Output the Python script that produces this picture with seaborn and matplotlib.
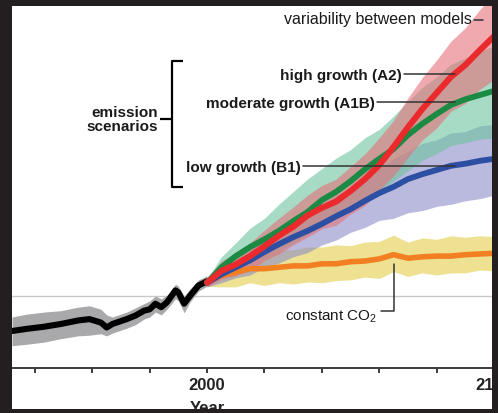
import matplotlib
matplotlib.use("Agg")
import matplotlib.pyplot as plt
from matplotlib.patches import Rectangle
import numpy as np
import seaborn as sns

# ---------------- data (temperature anomaly, deg C) ----------------
hist_years = [1932, 1937, 1943, 1949, 1955, 1959, 1963, 1965, 1967, 1972, 1975,
              1978, 1980, 1982, 1984, 1986, 1989, 1990, 1992, 1994, 1997, 2000]
hist_temp = [-0.50, -0.47, -0.44, -0.40, -0.35, -0.33, -0.38, -0.45, -0.40, -0.33, -0.28,
             -0.21, -0.19, -0.11, -0.16, -0.09, 0.08, 0.05, -0.11, 0.00, 0.15, 0.21]
hist_upper = [-0.30, -0.26, -0.23, -0.21, -0.16, -0.14, -0.19, -0.27, -0.30, -0.23, -0.17,
              -0.11, -0.07, 0.00, -0.04, 0.01, 0.17, 0.14, 0.00, 0.10, 0.23, 0.29]
hist_lower = [-0.71, -0.69, -0.66, -0.61, -0.57, -0.56, -0.54, -0.57, -0.53, -0.46, -0.41,
              -0.33, -0.30, -0.23, -0.27, -0.19, -0.04, -0.07, -0.24, -0.09, 0.07, 0.14]

fut_years = [2000, 2005, 2010, 2015, 2020, 2025, 2030, 2035, 2040, 2045, 2050,
             2055, 2060, 2065, 2070, 2075, 2080, 2085, 2090, 2095, 2100]

a2_temp = [0.19, 0.36, 0.45, 0.57, 0.71, 0.86, 0.99, 1.15, 1.26, 1.35, 1.50,
           1.67, 1.87, 2.13, 2.41, 2.67, 2.90, 3.13, 3.30, 3.51, 3.71]
a2_up = [0.06, 0.14, 0.17, 0.19, 0.23, 0.25, 0.28, 0.29, 0.32, 0.32, 0.35,
         0.36, 0.39, 0.38, 0.42, 0.45, 0.47, 0.51, 0.53, 0.58, 0.60]
a2_lo = [0.06, 0.12, 0.16, 0.21, 0.20, 0.26, 0.26, 0.31, 0.30, 0.34, 0.33,
         0.38, 0.36, 0.41, 0.43, 0.44, 0.50, 0.49, 0.55, 0.56, 0.62]

a1b_temp = [0.19, 0.41, 0.57, 0.70, 0.81, 0.93, 1.07, 1.20, 1.37, 1.49, 1.64,
            1.81, 1.96, 2.10, 2.30, 2.46, 2.60, 2.73, 2.81, 2.87, 2.93]
a1b_up = [0.06, 0.15, 0.19, 0.27, 0.30, 0.38, 0.42, 0.47, 0.45, 0.48, 0.45,
          0.45, 0.42, 0.47, 0.48, 0.52, 0.53, 0.58, 0.59, 0.63, 0.64]
a1b_lo = [0.06, 0.12, 0.18, 0.20, 0.27, 0.28, 0.32, 0.33, 0.38, 0.38, 0.41,
          0.42, 0.45, 0.46, 0.51, 0.52, 0.57, 0.58, 0.62, 0.63, 0.67]

b1_temp = [0.19, 0.31, 0.41, 0.51, 0.63, 0.74, 0.84, 0.93, 1.03, 1.14, 1.24,
           1.36, 1.47, 1.56, 1.67, 1.74, 1.80, 1.86, 1.89, 1.93, 1.96]
b1_up = [0.06, 0.12, 0.13, 0.18, 0.18, 0.22, 0.22, 0.25, 0.26, 0.30, 0.30,
         0.34, 0.35, 0.40, 0.40, 0.44, 0.43, 0.47, 0.46, 0.50, 0.49]
b1_lo = [0.06, 0.12, 0.15, 0.21, 0.22, 0.27, 0.28, 0.31, 0.30, 0.34, 0.33,
         0.38, 0.39, 0.45, 0.48, 0.52, 0.52, 0.55, 0.53, 0.54, 0.52]

co2_temp = [0.20, 0.29, 0.34, 0.39, 0.39, 0.41, 0.43, 0.43, 0.46, 0.46, 0.49,
            0.50, 0.53, 0.59, 0.54, 0.56, 0.57, 0.57, 0.59, 0.60, 0.61]
co2_up = [0.06, 0.18, 0.19, 0.23, 0.21, 0.25, 0.23, 0.27, 0.24, 0.27, 0.23,
          0.27, 0.25, 0.28, 0.23, 0.27, 0.24, 0.29, 0.25, 0.26, 0.24]
co2_lo = [0.06, 0.16, 0.21, 0.20, 0.24, 0.22, 0.26, 0.23, 0.27, 0.24, 0.26,
          0.23, 0.28, 0.24, 0.26, 0.23, 0.27, 0.24, 0.26, 0.23, 0.25]

tick_years = [1940, 1960, 1980, 2000, 2020, 2040, 2060, 2080, 2100]
tick_labels = ["", "", "", "2000", "", "", "", "", "2100"]

# ---------------- style ----------------
sns.set_style("white")
plt.rcParams['font.family'] = ['Liberation Sans', 'DejaVu Sans']
plt.rcParams['mathtext.fontset'] = 'custom'
plt.rcParams['mathtext.rm'] = 'Liberation Sans'
plt.rcParams['mathtext.it'] = 'Liberation Sans:italic'
plt.rcParams['mathtext.bf'] = 'Liberation Sans:bold'

W, H = 498, 414
dark = '#231f20'
fig = plt.figure(figsize=(W / 100, H / 100), dpi=100, facecolor=dark)
fig.add_artist(Rectangle((12 / W, 4 / H), 480 / W, 403 / H, transform=fig.transFigure,
                         facecolor='white', edgecolor='none', zorder=-5))

ax = fig.add_axes([12 / W, 45 / H, 482 / W, 362 / H])
ax.patch.set_alpha(0)
ax.set_xlim(1932, 2100)
ax.set_ylim(-1.0286, 4.1429)

fy = np.array(fut_years)

ax.axhline(0, color='#c9c9c9', lw=1.0, zorder=1)

# historical
ax.fill_between(hist_years, hist_lower, hist_upper, color='#a9a9ab', lw=0, zorder=2)
sns.lineplot(x=hist_years, y=hist_temp, color='black', lw=4.4, ax=ax, zorder=3)

# model-spread bands
def band(center, up, lo, color, alpha):
    c = np.array(center)
    ax.fill_between(fy, c - np.array(lo), c + np.array(up), color=color, alpha=alpha,
                    lw=0, zorder=2)

band(co2_temp, co2_up, co2_lo, '#e7d35f', 0.68)
band(b1_temp, b1_up, b1_lo, '#8c8cc8', 0.6)
band(a1b_temp, a1b_up, a1b_lo, '#6cc3a0', 0.6)
band(a2_temp, a2_up, a2_lo, '#e6717a', 0.6)

sns.lineplot(x=fut_years, y=co2_temp, color='#f27f22', lw=4.0, ax=ax, zorder=4)
sns.lineplot(x=fut_years, y=b1_temp, color='#2d4fa3', lw=4.2, ax=ax, zorder=4)
sns.lineplot(x=fut_years, y=a1b_temp, color='#1b8a43', lw=4.2, ax=ax, zorder=4)
sns.lineplot(x=fut_years, y=a2_temp, color='#ea2a2c', lw=4.4, ax=ax, zorder=5)

# axes styling
for s in ['top', 'left', 'right']:
    ax.spines[s].set_visible(False)
ax.spines['bottom'].set_color('#3a3a3a')
ax.spines['bottom'].set_linewidth(1.4)
ax.set_yticks([])
ax.set_xticks(tick_years)
ax.set_xticklabels(tick_labels, fontsize=12, fontweight='bold', color='#222222')
ax.tick_params(axis='x', which='major', bottom=True, direction='out', length=3.5,
               width=1.4, color='#3a3a3a', pad=3)
ax.set_xlabel('Year', fontsize=12, fontweight='bold', color='#222222')
ax.xaxis.set_label_coords((2000 - 1932) / 168, -0.088)

# annotations
txt = '#1a1a1a'
lead = dict(color='#333333', lw=1.1, zorder=6)
ax.text(2092.3, 3.96, 'variability between models', ha='right', va='center',
        fontsize=11.5, color=txt)
ax.plot([2093.0, 2096.2], [3.95, 3.95], **lead)

ax.text(2067.9, 3.16, 'high growth (A2)', ha='right', va='center', fontsize=11,
        fontweight='bold', color=txt)
ax.plot([2068.6, 2086.4], [3.17, 3.17], **lead)

ax.text(2058.5, 2.76, 'moderate growth (A1B)', ha='right', va='center', fontsize=11,
        fontweight='bold', color=txt)
ax.plot([2059.2, 2086.4], [2.77, 2.77], **lead)

ax.text(2032.7, 1.84, 'low growth (B1)', ha='right', va='center', fontsize=11,
        fontweight='bold', color=txt)
ax.plot([2033.4, 2086.4], [1.86, 1.86], **lead)

ax.text(1982.9, 2.53, 'emission\nscenarios', ha='right', va='center', fontsize=11,
        fontweight='bold', color=txt, linespacing=0.95)
br = dict(color='black', lw=1.6, zorder=6, solid_capstyle='butt')
ax.plot([1983.6, 1987.8], [2.53, 2.53], **br)
ax.plot([1991.6, 1987.8, 1987.8, 1991.6], [3.36, 3.36, 1.56, 1.56], **br)

ax.text(2027.2, -0.29, 'constant CO$_2$', ha='left', va='center', fontsize=11, color=txt)
ax.plot([2060.6, 2065.1, 2065.1], [-0.21, -0.21, 0.46], **lead)

# dark frame on top (crops the picture as in the reference)
for (x0, y0, w, h) in [(492, 0, 6, H), (0, 0, 12, H), (0, 0, W, 4), (0, H - 7, W, 7)]:
    fig.add_artist(Rectangle((x0 / W, y0 / H), w / W, h / H, transform=fig.transFigure,
                             facecolor=dark, edgecolor='none', zorder=20))

fig.savefig('out.png', dpi=100, facecolor=dark)
